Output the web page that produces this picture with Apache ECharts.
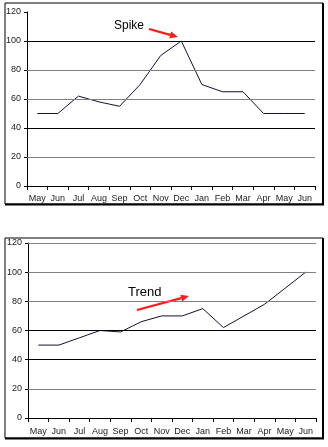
<!DOCTYPE html>
<html><head><meta charset="utf-8">
<script src="https://cdn.jsdelivr.net/npm/echarts@6/dist/echarts.min.js"></script>
<style>html,body{margin:0;padding:0;background:#fff}#c{width:328px;height:447px}</style>
</head><body><div id="c"></div>
<script>
const months = ['May','Jun','Jul','Aug','Sep','Oct','Nov','Dec','Jan','Feb','Mar','Apr','May','Jun'];
const spikeValues = [50,50,62,58,55,70,90,100,70,65,65,50,50,50];
const trendValues = [50,50,55,60,59,66,70,70,75,62,70,78,89,100];
const yTicks = [0,20,40,60,80,100,120];
const spikeGridLines = [{v:20,c:'#808080'},{v:40,c:'#000'},{v:60,c:'#808080'},{v:80,c:'#808080'},{v:100,c:'#000'}];
const trendGridLines = [{v:20,c:'#808080'},{v:40,c:'#000'},{v:60,c:'#000'},{v:80,c:'#808080'},{v:100,c:'#808080'},{v:120,c:'#808080'}];

const FONT = 'Liberation Sans, Arial, sans-serif';
function xAxis(gi){return {type:'category',gridIndex:gi,data:months,boundaryGap:true,
  axisLine:{lineStyle:{color:'#000',width:1}},axisTick:{show:true,length:4,lineStyle:{color:'#000'}},
  axisLabel:{color:'#222',fontSize:9,fontFamily:FONT,margin:gi===0?8:9,interval:0},splitLine:{show:false}};}
function yAxis(gi){return {type:'value',gridIndex:gi,min:0,max:120,interval:20,
  axisLine:{show:true,lineStyle:{color:'#000',width:1}},axisTick:{show:true,length:3,lineStyle:{color:'#000'}},
  axisLabel:{color:'#222',fontSize:9,fontFamily:FONT,margin:6},splitLine:{show:false}};}
function ml(lines){return {silent:true,symbol:'none',label:{show:false},animation:false,
  data:lines.map(l=>({yAxis:l.v,lineStyle:{color:l.c,width:1,type:'solid'}}))};}
function arrow(x1,y1,x2,y2){
  const a=Math.atan2(y2-y1,x2-x1), L=8, W=3.5;
  const bx=x2-L*Math.cos(a), by=y2-L*Math.sin(a);
  const px=-Math.sin(a)*W, py=Math.cos(a)*W;
  return [
    {type:'line',shape:{x1:x1,y1:y1,x2:bx,y2:by},style:{stroke:'#ff1a1a',lineWidth:2.2}},
    {type:'polygon',shape:{points:[[x2,y2],[bx+px,by+py],[bx-px,by-py]]},style:{fill:'#ff1a1a'}}
  ];
}
const chart = echarts.init(document.getElementById('c'),null,{renderer:'canvas'});
chart.setOption({
  animation:false,
  grid:[{left:27,top:12,width:288,height:174},{left:28,top:243,width:288,height:175}],
  xAxis:[xAxis(0),xAxis(1)],
  yAxis:[yAxis(0),yAxis(1)],
  series:[
    {type:'line',xAxisIndex:0,yAxisIndex:0,data:spikeValues,showSymbol:false,symbol:'none',
     lineStyle:{color:'#111133',width:1},markLine:ml(spikeGridLines),z:3},
    {type:'line',xAxisIndex:1,yAxisIndex:1,data:trendValues,showSymbol:false,symbol:'none',
     lineStyle:{color:'#111133',width:1},markLine:ml(trendGridLines),z:3}
  ],
  graphic:[
    {type:'rect',shape:{x:5,y:3,width:318,height:201},style:{fill:'none',stroke:'#000',lineWidth:1}},
    {type:'line',shape:{x1:323,y1:3,x2:323,y2:205},style:{stroke:'#000',lineWidth:2}},
    {type:'line',shape:{x1:5,y1:204.5,x2:324,y2:204.5},style:{stroke:'#000',lineWidth:2}},
    {type:'rect',shape:{x:5,y:238,width:318,height:200},style:{fill:'none',stroke:'#000',lineWidth:1}},
    {type:'line',shape:{x1:323,y1:238,x2:323,y2:439},style:{stroke:'#000',lineWidth:2}},
    {type:'line',shape:{x1:5,y1:438.5,x2:324,y2:438.5},style:{stroke:'#000',lineWidth:2}},
    {type:'text',x:114,y:20,style:{text:'Spike',fontSize:12,fontFamily:FONT,fill:'#000'}},
    {type:'text',x:128,y:286,style:{text:'Trend',fontSize:13,fontFamily:FONT,fill:'#000'}},
    ...arrow(149,29,178,37),
    ...arrow(137,310,189,296)
  ]
});
</script></body></html>
